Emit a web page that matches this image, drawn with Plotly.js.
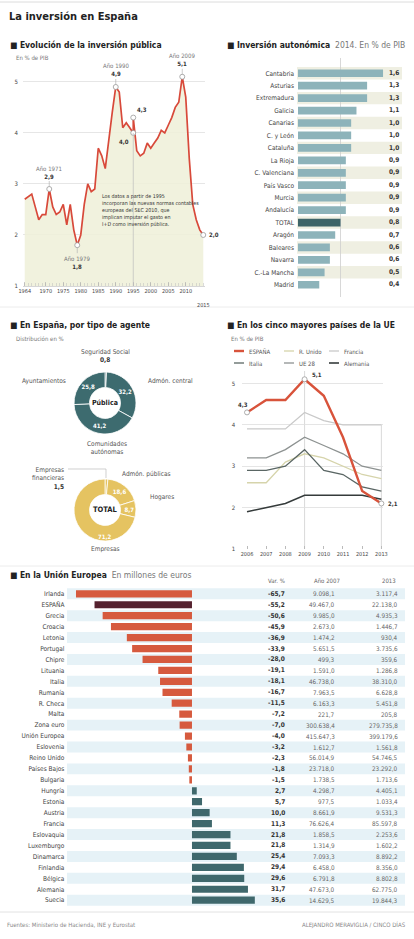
<!DOCTYPE html>
<html><head><meta charset="utf-8">
<script src="https://cdn.plot.ly/plotly-3.0.1.min.js"></script>
<style>html,body{margin:0;padding:0;background:#fff;}#chart{width:414px;height:939px;}</style>
</head><body><div id="chart"></div>
<script>
// ---------- DATA ----------
// Evolución de la inversión pública (% PIB) – serie antigua y serie SEC 2010
const evoYearsOld = [1964,1965,1966,1967,1968,1969,1970,1971,1972,1973,1974,1975,1976,1977,1978,1979,1980,1981,1982,1983,1984,1985,1986,1987,1988,1989,1990,1991,1992,1993,1994,1995];
const evoValuesOld = [2.7,2.75,2.8,2.55,2.3,2.4,2.4,2.9,2.55,2.4,2.45,2.6,2.2,2.6,2.1,1.8,2.0,2.6,3.0,2.85,2.9,3.7,3.55,3.3,3.9,4.4,4.9,4.8,4.1,4.2,4.1,4.0];
const evoYearsNew = [1995,1996,1997,1998,1999,2000,2001,2002,2003,2004,2005,2006,2007,2008,2009,2010,2011,2012,2013,2014,2015];
const evoValuesNew = [4.3,3.65,3.55,3.6,3.8,3.7,3.8,3.9,4.05,4.0,4.15,4.3,4.5,4.6,5.1,4.7,3.5,2.6,2.3,2.1,2.0];
const evoTickYears = [1964,1970,1975,1980,1985,1990,1995,2000,2005,2010];

// Inversión autonómica 2014 (% PIB)
const regions = ['Cantabria','Asturias','Extremadura','Galicia','Canarias','C. y León','Cataluña','La Rioja','C. Valenciana','País Vasco','Murcia','Andalucía','TOTAL','Aragón','Baleares','Navarra','C.-La Mancha','Madrid'];
const regionValues = [1.6,1.3,1.3,1.1,1.0,1.0,1.0,0.9,0.9,0.9,0.9,0.9,0.8,0.7,0.6,0.6,0.5,0.4];

// Por tipo de agente (distribución en %)
const publicaLabels = ['Seguridad Social','Admón. central','Comunidades autónomas','Ayuntamientos'];
const publicaValues = [0.8,32.2,41.2,25.8];
const totalLabels = ['Empresas financieras','Admón. públicas','Hogares','Empresas'];
const totalValues = [1.5,18.6,8.7,71.2];

// Cinco mayores países de la UE (% PIB)
const ueYears = [2006,2007,2008,2009,2010,2011,2012,2013];
const ueNames = ['ESPAÑA','R. Unido','Francia','Italia','UE 28','Alemania'];
const ueEspana   = [4.3,4.6,4.6,5.1,4.7,3.7,2.4,2.1];
const ueRUnido   = [2.6,2.6,3.1,3.3,3.2,3.0,2.8,2.7];
const ueFrancia  = [3.9,3.9,3.9,4.3,4.1,4.0,4.0,4.0];
const ueItalia   = [2.9,2.9,3.0,3.4,2.9,2.8,2.5,2.4];
const ueUE28     = [3.2,3.2,3.4,3.7,3.5,3.3,3.0,2.9];
const ueAlemania = [1.9,2.0,2.1,2.3,2.3,2.3,2.3,2.2];

// En la Unión Europea (millones de euros)
const euCountries = ['Irlanda','ESPAÑA','Grecia','Croacia','Letonia','Portugal','Chipre','Lituania','Italia','Rumanía','R. Checa','Malta','Zona euro','Unión Europea','Eslovenia','Reino Unido','Países Bajos','Bulgaria','Hungría','Estonia','Austria','Francia','Eslovaquia','Luxemburgo','Dinamarca','Finlandia','Bélgica','Alemania','Suecia'];
const euVar = [-65.7,-55.2,-50.6,-45.9,-36.9,-33.9,-28.0,-19.1,-18.1,-16.7,-11.5,-7.2,-7.0,-4.0,-3.2,-2.3,-1.8,-1.5,2.7,5.7,10.0,11.3,21.8,21.8,25.4,29.4,29.6,31.7,35.6];
const eu2007 = [9098.1,49467.0,9985.0,2673.0,1474.2,5651.5,499.3,1591.0,46738.0,7963.5,6163.3,221.7,300638.4,415647.3,1612.7,56014.9,23718.0,1738.5,4298.7,977.5,8661.9,76626.4,1858.5,1314.9,7093.3,6458.0,6791.8,47673.0,14629.5];
const eu2013 = [3117.4,22138.0,4935.3,1446.7,930.4,3735.6,359.6,1286.8,38310.0,6628.8,5451.8,205.8,279735.8,399179.6,1561.8,54746.5,23292.0,1713.6,4405.1,1033.4,9531.3,85597.8,2253.6,1602.2,8892.2,8356.0,8802.8,62775.0,19844.3];

// ---------- HELPERS ----------
const FONT = '"Liberation Sans Narrow","DejaVu Sans Condensed","Roboto Condensed",Roboto,sans-serif';
const W = 414, H = 939;
const X = p => p / W, Y = p => 1 - p / H;
const f = (size, color) => ({family: FONT, size: size, color: color || '#444'});
const fmt = (v, d = 1) => {
  const s = Math.abs(v).toFixed(d).split('.');
  const i = s[0].replace(/\B(?=(\d{3})+(?!\d))/g, '.');
  return (v < 0 ? '-' : '') + i + (d > 0 ? ',' + s[1] : '');
};
const traces = [], shapes = [], annotations = [];
function txt(x, y, text, opt) {
  annotations.push(Object.assign({xref:'paper', yref:'paper', x:X(x), y:Y(y), text:text, showarrow:false,
    font:f(6.5,'#444'), xanchor:'left', yanchor:'middle'}, opt || {}));
}
function hline(y, x0, x1, color, w) {
  shapes.push({type:'line', xref:'paper', yref:'paper', x0:X(x0), x1:X(x1), y0:Y(y), y1:Y(y), line:{color:color||'#e2e2e2', width:w||1}});
}

// ---------- TITLES / SEPARATORS ----------
hline(2, 0, 414, '#dcdcdc', 1);
hline(307, 0, 414, '#ececec', 1);
hline(566, 0, 414, '#ececec', 1);
hline(912, 0, 414, '#e2e2e2', 1);
txt(7, 17, '<b>La inversión en España</b>', {font:f(11,'#222')});

// ---------- CHART A: Evolución ----------
txt(8, 45, '<b>■ Evolución de la inversión pública</b>', {font:f(8.5,'#222')});
txt(14, 58, 'En % de PIB', {font:f(6,'#777')});
const evoX = evoYearsOld.concat(evoYearsNew);
const evoY = evoValuesOld.concat(evoValuesNew);
traces.push({type:'scatter', mode:'lines', x:evoX, y:evoY, xaxis:'x', yaxis:'y',
  line:{color:'#d8493a', width:1.7}, fill:'tozeroy', fillcolor:'rgba(238,240,216,0.85)',
  hoverinfo:'skip', showlegend:false});
const oldAt = yr => evoValuesOld[evoYearsOld.indexOf(yr)];
const newAt = yr => evoValuesNew[evoYearsNew.indexOf(yr)];
const hiPts = [[1971, oldAt(1971)], [1979, oldAt(1979)], [1990, oldAt(1990)], [1995, oldAt(1995)], [1995, newAt(1995)], [2009, newAt(2009)], [2015, newAt(2015)]];
traces.push({type:'scatter', mode:'markers', x:hiPts.map(p=>p[0]), y:hiPts.map(p=>p[1]), xaxis:'x', yaxis:'y',
  marker:{size:5, color:'#fff', line:{color:'#999', width:0.8}}, cliponaxis:false, hoverinfo:'skip', showlegend:false});
shapes.push({type:'line', xref:'x', yref:'y', x0:1995, x1:1995, y0:1, y1:oldAt(1995), line:{color:'#bdbdbd', width:0.7}});
const evoLab = (yr, v, ay) => annotations.push({xref:'x', yref:'y', x:yr, y:v,
  text:'<span style="color:#777">Año ' + yr + '</span><br><b>' + fmt(v) + '</b>', showarrow:true, arrowhead:0,
  arrowwidth:0.6, arrowcolor:'#aaa', ax:0, ay:ay, font:f(6,'#333'), standoff:2});
evoLab(1971, oldAt(1971), -17);
evoLab(1979, oldAt(1979), 17);
evoLab(1990, oldAt(1990), -17);
evoLab(2009, newAt(2009), -17);
annotations.push({xref:'x', yref:'y', x:1995, y:oldAt(1995), text:'<b>' + fmt(oldAt(1995)) + '</b>', showarrow:false, xshift:-9, yshift:-9, font:f(6,'#333')});
annotations.push({xref:'x', yref:'y', x:1995, y:newAt(1995), text:'<b>' + fmt(newAt(1995)) + '</b>', showarrow:false, xshift:9, yshift:8, font:f(6,'#333')});
annotations.push({xref:'x', yref:'y', x:2015, y:newAt(2015), text:'<b>' + fmt(newAt(2015)) + '</b>', showarrow:false, xanchor:'left', xshift:4, font:f(6,'#333')});
annotations.push({xref:'x', yref:'paper', x:2015, y:Y(300), text:'2015', showarrow:false, font:f(5.5,'#444')});
txt(100, 210, 'Los datos a partir de 1995<br>incorporan las nuevas normas contables<br>europeas del SEC 2010, que<br>implican imputar el gasto en<br>I+D como inversión pública.',
  {font:f(5.3,'#333'), align:'left'});

// ---------- CHART B: Inversión autonómica ----------
txt(225, 45, '<b>■ Inversión autonómica</b> <span style="color:#777"> 2014. En % de PIB</span>', {font:f(8.5,'#222')});
regions.forEach((r, i) => {
  if (i % 2 === 0) shapes.push({type:'rect', xref:'paper', yref:'y2', x0:X(297), x1:X(402), y0:i-0.5, y1:i+0.5,
    fillcolor:'#efefe2', line:{width:0}, layer:'below'});
});
const totalVal = regionValues[regions.indexOf('TOTAL')];
shapes.push({type:'line', xref:'x2', yref:'paper', x0:totalVal, x1:totalVal, y0:Y(297), y1:Y(58), line:{color:'#cdcdcd', width:0.8}, layer:'below'});
traces.push({type:'bar', orientation:'h', x:regionValues, y:regions, xaxis:'x2', yaxis:'y2', width:0.62,
  marker:{color:regions.map(r => r === 'TOTAL' ? '#3e6569' : '#8db3ba')}, hoverinfo:'skip', showlegend:false});
traces.push({type:'scatter', mode:'text', x:regions.map(() => 1.81), y:regions, xaxis:'x2', yaxis:'y2',
  text:regionValues.map(v => '<b>' + fmt(v) + '</b>'), textfont:f(6.5,'#333'), cliponaxis:false, hoverinfo:'skip', showlegend:false});

// ---------- CHART C: Donuts ----------
txt(8, 325, '<b>■ En España, por tipo de agente</b>', {font:f(8.5,'#222')});
txt(14, 338, 'Distribución en %', {font:f(6,'#777')});
traces.push({type:'pie', values:publicaValues, labels:publicaLabels, domain:{x:[X(74),X(136)], y:[Y(434),Y(372)]},
  hole:0.5, sort:false, direction:'clockwise', rotation:0,
  marker:{colors:publicaValues.map(() => '#3d6b6f'), line:{color:'#fff', width:0.8}},
  text:publicaValues.map(v => v < 5 ? '' : '<b>' + fmt(v) + '</b>'), textinfo:'text', textposition:'inside', insidetextorientation:'horizontal',
  textfont:f(6,'#fff'), insidetextfont:f(6,'#fff'), hoverinfo:'skip', showlegend:false});
traces.push({type:'pie', values:totalValues, labels:totalLabels, domain:{x:[X(74),X(136)], y:[Y(541),Y(479)]},
  hole:0.5, sort:false, direction:'clockwise', rotation:0,
  marker:{colors:totalValues.map(() => '#e5c361'), line:{color:'#fff', width:0.8}},
  text:totalValues.map(v => (v < 5 || v > 50) ? '' : '<b>' + fmt(v) + '</b>'), textinfo:'text', textposition:'inside', insidetextorientation:'horizontal',
  textfont:f(6,'#fff'), insidetextfont:f(6,'#fff'), hoverinfo:'skip', showlegend:false});
txt(105, 536, '<b>' + fmt(totalValues[3]) + '</b>', {xanchor:'center', font:f(6,'#fff')});
txt(105, 403, '<b>Pública</b>', {xanchor:'center', font:f(7,'#222')});
txt(105, 510, '<b>TOTAL</b>', {xanchor:'center', font:f(7.5,'#222')});
txt(105, 352, publicaLabels[0], {xanchor:'center', font:f(6.5,'#555')});
txt(105, 360, '<b>' + fmt(publicaValues[0]) + '</b>', {xanchor:'center', font:f(6.5,'#333')});
txt(44, 381, publicaLabels[3], {xanchor:'center', font:f(6.5,'#555')});
txt(170, 381, publicaLabels[1], {xanchor:'center', font:f(6.5,'#555')});
txt(107, 448, 'Comunidades<br>autónomas', {xanchor:'center', font:f(6.5,'#555')});
txt(66, 478, 'Empresas<br>financieras<br><b style="color:#333">' + fmt(totalValues[0]) + '</b>', {xanchor:'right', align:'right', font:f(6.5,'#555')});
shapes.push({type:'path', xref:'paper', yref:'paper',
  path:'M ' + X(68) + ' ' + Y(469) + ' L ' + X(106) + ' ' + Y(469) + ' L ' + X(106) + ' ' + Y(478), line:{color:'#bbb', width:0.7}});
txt(120, 474, totalLabels[1], {font:f(6.5,'#555')});
txt(162, 497, totalLabels[2], {xanchor:'center', font:f(6.5,'#555')});
txt(105, 549, totalLabels[3], {xanchor:'center', font:f(6.5,'#555')});

// ---------- CHART D: cinco mayores ----------
txt(225, 325, '<b>■ En los cinco mayores países de la UE</b>', {font:f(8.5,'#222')});
txt(229, 338, 'En % de PIB', {font:f(6,'#777')});
const ueSeries = [ueEspana, ueRUnido, ueFrancia, ueItalia, ueUE28, ueAlemania];
const ueColors = ['#d8533b', '#d6d4ab', '#c9c9c9', '#5a6664', '#8d9291', '#353b3b'];
const ueWidths = [2.4, 1.3, 1.3, 1.3, 1.3, 1.6];
shapes.push({type:'line', xref:'x3', yref:'y3', x0:2009, x1:2009, y0:1, y1:5.3, line:{color:'#cfcfcf', width:0.8}, layer:'below'});
shapes.push({type:'line', xref:'x3', yref:'y3', x0:2013, x1:2013, y0:1, y1:4, line:{color:'#cfcfcf', width:0.8}, layer:'below'});
[2, 1, 4, 3, 5, 0].forEach(i => {
  traces.push({type:'scatter', mode:'lines', x:ueYears, y:ueSeries[i], xaxis:'x3', yaxis:'y3', name:ueNames[i],
    line:{color:ueColors[i], width:ueWidths[i]}, cliponaxis:false, hoverinfo:'skip', showlegend:false});
});
const espIdx = [0, 3, 7];
traces.push({type:'scatter', mode:'markers', x:espIdx.map(i => ueYears[i]), y:espIdx.map(i => ueEspana[i]), xaxis:'x3', yaxis:'y3',
  marker:{size:5, color:'#fff', line:{color:'#999', width:0.8}}, cliponaxis:false, hoverinfo:'skip', showlegend:false});
annotations.push({xref:'x3', yref:'y3', x:ueYears[0], y:ueEspana[0], text:'<b>' + fmt(ueEspana[0]) + '</b>', showarrow:false, xshift:-4, yshift:8, font:f(6,'#333')});
annotations.push({xref:'x3', yref:'y3', x:ueYears[3], y:ueEspana[3], text:'<b>' + fmt(ueEspana[3]) + '</b>', showarrow:false, xanchor:'left', xshift:5, yshift:5, font:f(6,'#333')});
annotations.push({xref:'x3', yref:'y3', x:ueYears[7], y:ueEspana[7], text:'<b>' + fmt(ueEspana[7]) + '</b>', showarrow:false, xanchor:'left', xshift:5, font:f(6,'#333')});
const legX = [234, 284, 329], legY = [351, 363];
ueNames.forEach((n, i) => {
  const lx = legX[i % 3], ly = legY[Math.floor(i / 3)];
  shapes.push({type:'line', xref:'paper', yref:'paper', x0:X(lx), x1:X(lx + 10), y0:Y(ly), y1:Y(ly), line:{color:ueColors[i], width:ueWidths[i]}});
  txt(lx + 13, ly, n, {font:f(6,'#555')});
});

// ---------- CHART E: Unión Europea ----------
txt(8, 575, '<b>■ En la Unión Europea</b> <span style="color:#777"> En millones de euros</span>', {font:f(8.5,'#222')});
txt(287, 580, 'Var. %', {xanchor:'right', font:f(6,'#666')});
txt(342, 580, 'Año 2007', {xanchor:'right', font:f(6,'#666')});
txt(398, 580, '2013', {xanchor:'right', font:f(6,'#666')});
euCountries.forEach((c, i) => {
  if (i % 2 === 0) shapes.push({type:'rect', xref:'paper', yref:'y4', x0:X(67), x1:X(405), y0:i-0.5, y1:i+0.5,
    fillcolor:'#e6f2f7', line:{width:0}, layer:'below'});
  annotations.push({xref:'paper', yref:'y4', x:X(287), y:c, text:'<b>' + fmt(euVar[i]) + '</b>', showarrow:false, xanchor:'right', font:f(6.5,'#333')});
  annotations.push({xref:'paper', yref:'y4', x:X(337), y:c, text:fmt(eu2007[i]), showarrow:false, xanchor:'right', font:f(6.3,'#666')});
  annotations.push({xref:'paper', yref:'y4', x:X(400), y:c, text:fmt(eu2013[i]), showarrow:false, xanchor:'right', font:f(6.3,'#666')});
});
traces.push({type:'bar', orientation:'h', x:euVar, y:euCountries, xaxis:'x4', yaxis:'y4', width:0.66,
  marker:{color:euCountries.map((c, i) => c === 'ESPAÑA' ? '#56222f' : (euVar[i] < 0 ? '#d65a3e' : '#3f686c'))},
  hoverinfo:'skip', showlegend:false});

// ---------- FOOTER ----------
txt(5, 925, 'Fuentes: Ministerio de Hacienda, INE y Eurostat', {font:f(6,'#888')});
txt(408, 925, 'ALEJANDRO MERAVIGLIA / CINCO DÍAS', {xanchor:'right', font:f(6,'#888')});

// ---------- LAYOUT ----------
const layout = {
  width: W, height: H, margin:{l:0, r:0, t:0, b:0}, paper_bgcolor:'#fff', plot_bgcolor:'rgba(0,0,0,0)',
  showlegend:false, hovermode:false, font:{family:FONT},
  xaxis:{domain:[X(23), X(205)], range:[1963.5, 2015.5], anchor:'y', tickmode:'array', tickvals:evoTickYears,
    ticktext:evoTickYears.map(String), tickfont:f(5.5,'#444'), ticks:'inside', ticklen:4, tickcolor:'#aaa', tickwidth:0.6,
    minor:{tickmode:'linear', tick0:1964, dtick:1, ticks:'inside', ticklen:3, tickcolor:'#bbb', tickwidth:0.5, showgrid:false},
    showgrid:false, zeroline:false, showline:true, linecolor:'#ccc', linewidth:0.8, fixedrange:true},
  yaxis:{domain:[Y(286), Y(64)], range:[1, 5.35], anchor:'x', tickmode:'array', tickvals:[1,2,3,4,5], tickfont:f(6,'#444'),
    showgrid:true, gridcolor:'#e0e0e0', gridwidth:0.8, zeroline:false, ticks:'', ticklabelstandoff:4, fixedrange:true},
  xaxis2:{domain:[X(298), X(399)], range:[0, 1.9], anchor:'y2', visible:false, fixedrange:true},
  yaxis2:{domain:[Y(296.5), Y(61.5)], anchor:'x2', type:'category', autorange:'reversed', tickfont:f(6.5,'#444'),
    ticks:'', showgrid:false, zeroline:false, showline:false, ticklabelstandoff:3, fixedrange:true},
  xaxis3:{domain:[X(242.2), X(383.3)], range:[2005.75, 2013.1], anchor:'y3', tickmode:'array', tickvals:ueYears,
    tickfont:f(5.5,'#444'), ticks:'inside', ticklen:3, tickcolor:'#bbb', showgrid:false, zeroline:false, showline:false, fixedrange:true},
  yaxis3:{domain:[Y(549), Y(371)], range:[1, 5.3], anchor:'x3', tickmode:'array', tickvals:[1,2,3,4,5], tickfont:f(6,'#444'),
    showgrid:true, gridcolor:'#dedede', gridwidth:0.8, zeroline:false, ticks:'', ticklabelstandoff:6, fixedrange:true},
  xaxis4:{domain:[X(68.4), X(262.6)], range:[-70, 40], anchor:'y4', visible:false, fixedrange:true},
  yaxis4:{domain:[Y(906.2), Y(587.8)], anchor:'x4', type:'category', autorange:'reversed', tickfont:f(6.5,'#444'),
    ticks:'', showgrid:false, zeroline:false, showline:false, ticklabelstandoff:3, fixedrange:true},
  shapes: shapes, annotations: annotations
};
Plotly.newPlot('chart', traces, layout, {staticPlot:true, displayModeBar:false});
</script>
</body></html>
